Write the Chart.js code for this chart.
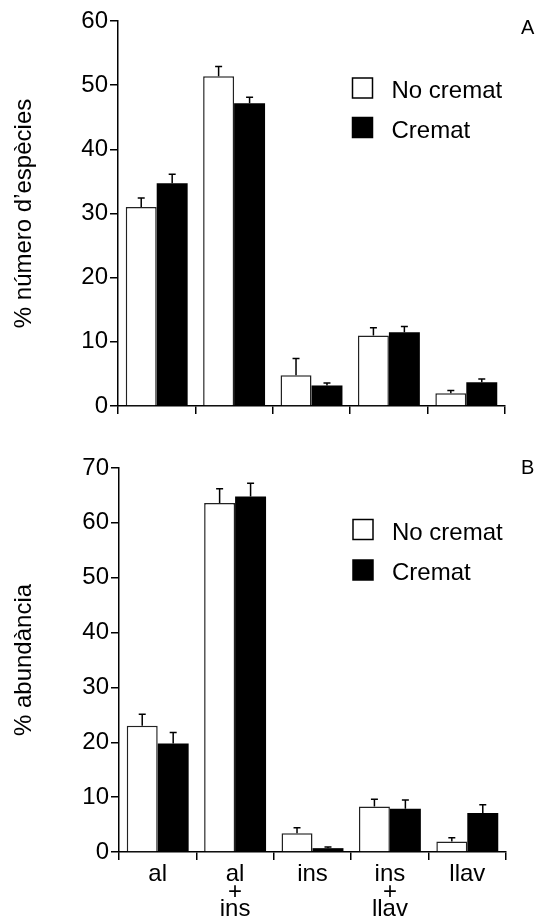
<!DOCTYPE html>
<html>
<head>
<meta charset="utf-8">
<title>Espècies i abundància: cremat / no cremat</title>
<script src="https://cdn.jsdelivr.net/npm/chart.js@4.4.0/dist/chart.umd.min.js"></script>
<style>
	body { margin: 0; background: #fff; }
	#panelA { position: absolute; left: 0; top: 0; width: 538px; height: 430px; }
	#panelB { position: absolute; left: 0; top: 430px; width: 538px; height: 488px; }
</style>
</head>
<body>
<div id="panelA"><canvas id="chartA"></canvas></div>
<div id="panelB"><canvas id="chartB"></canvas></div>
<script>
var categories = [['al'], ['al', '+', 'ins'], ['ins'], ['ins', '+', 'llav'], ['llav']];
var seriesNames = ['No cremat', 'Cremat'];

// A: % número d'espècies (mitjana i error)
var especiesNoCremat = [31.0, 51.4, 4.8, 11.0, 2.0];
var especiesNoCrematErr = [1.4, 1.5, 2.6, 1.2, 0.4];
var especiesCremat = [34.7, 47.2, 3.2, 11.5, 3.7];
var especiesCrematErr = [1.4, 0.9, 0.4, 0.9, 0.5];
var especiesTicks = [0, 10, 20, 30, 40, 50, 60];

// B: % abundància
var abundanciaNoCremat = [23.0, 63.6, 3.4, 8.3, 1.9];
var abundanciaNoCrematErr = [2.1, 2.6, 1.0, 1.3, 0.7];
var abundanciaCremat = [19.8, 64.8, 0.7, 7.9, 7.1];
var abundanciaCrematErr = [2.0, 2.4, 0.2, 1.6, 1.5];
var abundanciaTicks = [0, 10, 20, 30, 40, 50, 60, 70];

var family = "'Liberation Sans', Arial, Helvetica, sans-serif";
var fontSize = 24;

// upward error bars with a small cap
var errorBars = {
	id: 'errorBars',
	afterDatasetsDraw: function (chart) {
		var ctx = chart.ctx;
		var yScale = chart.scales.y;
		ctx.save();
		ctx.strokeStyle = '#000';
		ctx.lineWidth = 1.5;
		chart.data.datasets.forEach(function (ds, i) {
			chart.getDatasetMeta(i).data.forEach(function (bar, j) {
				var top = yScale.getPixelForValue(ds.data[j] + ds.errors[j]);
				ctx.beginPath();
				ctx.moveTo(bar.x, bar.y);
				ctx.lineTo(bar.x, top);
				ctx.moveTo(bar.x - 3.5, top);
				ctx.lineTo(bar.x + 3.5, top);
				ctx.stroke();
			});
		});
		ctx.restore();
	}
};

// boxed legend inside the plot + panel letter
var boxLegend = {
	id: 'boxLegend',
	afterDraw: function (chart, args, opts) {
		var ctx = chart.ctx;
		ctx.save();
		ctx.font = fontSize + 'px ' + family;
		ctx.textBaseline = 'alphabetic';
		chart.data.datasets.forEach(function (ds, i) {
			var y = opts.y + i * opts.gap;
			ctx.fillStyle = ds.backgroundColor;
			ctx.fillRect(opts.x, y, 20, 20);
			ctx.strokeStyle = '#000';
			ctx.lineWidth = 1.5;
			ctx.strokeRect(opts.x, y, 20, 20);
			ctx.fillStyle = '#000';
			ctx.fillText(ds.label, opts.x + 39, y + 20);
		});
		ctx.font = '20px ' + family;
		ctx.fillText(opts.letter, opts.letterX, opts.letterY);
		ctx.restore();
	}
};

function makeChart(id, cfg) {
	return new Chart(document.getElementById(id), {
		type: 'bar',
		data: {
			labels: categories,
			datasets: [{
				label: seriesNames[0],
				data: cfg.a,
				errors: cfg.aErr,
				backgroundColor: '#fff',
				borderColor: '#222',
				borderWidth: 1.5
			}, {
				label: seriesNames[1],
				data: cfg.b,
				errors: cfg.bErr,
				backgroundColor: '#000',
				borderWidth: 0
			}]
		},
		options: {
			responsive: true,
			maintainAspectRatio: false,
			animation: false,
			events: [],
			categoryPercentage: 0.8,
			barPercentage: 1.0,
			layout: { padding: cfg.padding },
			plugins: {
				legend: { display: false },
				tooltip: { enabled: false },
				boxLegend: cfg.legend
			},
			scales: {
				x: {
					grid: { offset: true, drawOnChartArea: false, drawTicks: true, tickLength: 8, color: '#000', lineWidth: 1.5 },
					border: { display: true, color: '#000', width: 1.5 },
					ticks: {
						display: cfg.showLabels,
						color: '#000',
						padding: 6,
						maxRotation: 0,
						autoSkip: false,
						font: { family: family, size: fontSize, lineHeight: '17.5px' }
					},
					afterFit: function (s) { s.height = cfg.xHeight; }
				},
				y: {
					min: cfg.ticks[0],
					max: cfg.ticks[cfg.ticks.length - 1],
					afterBuildTicks: function (s) {
						s.ticks = cfg.ticks.map(function (v) { return { value: v }; });
					},
					grid: { drawOnChartArea: false, drawTicks: true, tickLength: 8, color: '#000', lineWidth: 1.5 },
					border: { display: true, color: '#000', width: 1.5 },
					ticks: { color: '#000', padding: 2, font: { family: family, size: fontSize } },
					title: {
						display: true,
						text: cfg.title,
						color: '#000',
						padding: { top: 10, bottom: 0 },
						font: { family: family, size: fontSize }
					},
					afterFit: function (s) { s.width = cfg.yWidth; }
				}
			}
		},
		plugins: [errorBars, boxLegend]
	});
}

makeChart('chartA', {
	a: especiesNoCremat, aErr: especiesNoCrematErr,
	b: especiesCremat, bErr: especiesCrematErr,
	ticks: especiesTicks,
	title: '% número d’espècies',
	showLabels: false,
	padding: { top: 21, right: 33, bottom: 0, left: 0 },
	xHeight: 24,
	yWidth: 118,
	legend: { x: 352.5, y: 78, gap: 39.5, letter: 'A', letterX: 521, letterY: 34 }
});

makeChart('chartB', {
	a: abundanciaNoCremat, aErr: abundanciaNoCrematErr,
	b: abundanciaCremat, bErr: abundanciaCrematErr,
	ticks: abundanciaTicks,
	title: '% abundància',
	showLabels: true,
	padding: { top: 38, right: 32, bottom: 0, left: 0 },
	xHeight: 66,
	yWidth: 119,
	legend: { x: 353, y: 89.5, gap: 40.5, letter: 'B', letterX: 521, letterY: 44 }
});
</script>
</body>
</html>
